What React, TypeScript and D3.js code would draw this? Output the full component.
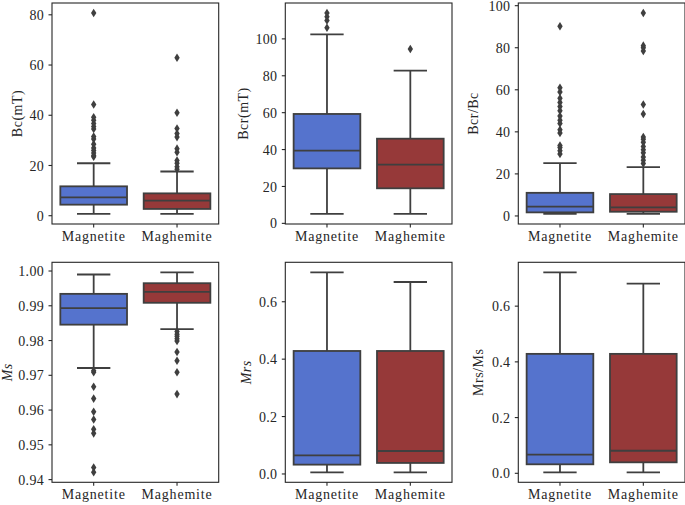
import React from "react";
import * as d3 from "d3";

// ---------- data ----------
const categories = ["Magnetite", "Maghemite"];
const boxColors = ["#5573cd", "#963939"];

// stats per category: [lowWhisker, q1, median, q3, highWhisker]
const bcStats = [
  [0.7, 4.4, 7.3, 11.7, 20.9],
  [0.7, 2.7, 6.0, 8.9, 17.6],
];
const bcOutliers = [
  [23.5, 24, 25, 26, 27, 28.5, 30.5, 31.5, 34.5, 35.5, 36.7, 38, 39.2, 44.3, 80.7],
  [18.5, 19.5, 20.9, 22, 25.3, 26.7, 31.3, 32.7, 34.7, 41, 62.9],
];
const bcrStats = [
  [5.1, 29.8, 39.4, 59.3, 102.4],
  [5.1, 19.0, 31.8, 45.9, 82.8],
];
const bcrOutliers = [
  [106, 110, 112, 114],
  [94.5],
];
const ratioStats = [
  [0.95, 1.7, 4.4, 11.0, 25.1],
  [1.0, 2.0, 4.1, 10.4, 23.2],
];
const ratioOutliers = [
  [29.5, 31, 32.5, 33.5, 39.5, 41, 44, 45.5, 47.5, 50, 52, 54, 56, 59, 61, 90.2],
  [25, 26.5, 28, 30, 31.5, 33, 35, 36.5, 37.5, 48.5, 53, 78.5, 80, 81, 96.5],
];
const msStats = [
  [0.9721, 0.98457, 0.98934, 0.99343, 0.999],
  [0.98326, 0.99086, 0.994, 0.99649, 0.99963],
];
const msOutliers = [
  [0.9709, 0.9713, 0.9667, 0.9633, 0.9595, 0.9573, 0.9545, 0.9533, 0.9435, 0.9421],
  [0.98257, 0.9818, 0.9812, 0.9805, 0.9799, 0.9767, 0.9742, 0.9709, 0.9646],
];
const mrsStats = [
  [0.0058, 0.0325, 0.065, 0.4285, 0.7026],
  [0.0058, 0.0384, 0.08, 0.4285, 0.6688],
];
const mrsOutliers: number[][] = [[], []];
const mrsMsStats = [
  [0.0036, 0.0323, 0.0667, 0.4287, 0.7215],
  [0.0036, 0.0394, 0.081, 0.4287, 0.681],
];
const mrsMsOutliers: number[][] = [[], []];

const ticksBc = [0, 20, 40, 60, 80];
const ticksBcr = [0, 20, 40, 60, 80, 100];
const ticksRatio = [0, 20, 40, 60, 80, 100];
const ticksMs = [0.94, 0.95, 0.96, 0.97, 0.98, 0.99, 1.0];
const ticksMrs = [0.0, 0.2, 0.4, 0.6];
const ticksMrsMs = [0.0, 0.2, 0.4, 0.6];

// ---------- layout ----------
const colX = [52, 285.3, 518.3];
const rowY = [3, 262.3];
const panelW = 166.7;
const rowH = [221, 220];
const FONT = "Liberation Serif, DejaVu Serif, serif";
const LINE = "#3f3f3f";
const SPINE = "#262626";

const panels = [
  { label: "Bc(mT)", italic: false, stats: bcStats, outliers: bcOutliers, ticks: ticksBc, fmt: "d", col: 0, row: 0, labelOff: 35 },
  { label: "Bcr(mT)", italic: false, stats: bcrStats, outliers: bcrOutliers, ticks: ticksBcr, fmt: "d", col: 1, row: 0, labelOff: 42 },
  { label: "Bcr/Bc", italic: false, stats: ratioStats, outliers: ratioOutliers, ticks: ticksRatio, fmt: "d", col: 2, row: 0, labelOff: 45 },
  { label: "Ms", italic: true, stats: msStats, outliers: msOutliers, ticks: ticksMs, fmt: ".2f", col: 0, row: 1, labelOff: 45 },
  { label: "Mrs", italic: true, stats: mrsStats, outliers: mrsOutliers, ticks: ticksMrs, fmt: ".1f", col: 1, row: 1, labelOff: 39 },
  { label: "Mrs/Ms", italic: false, stats: mrsMsStats, outliers: mrsMsOutliers, ticks: ticksMrsMs, fmt: ".1f", col: 2, row: 1, labelOff: 40 },
];

const textStyle = { fontFamily: FONT, fontSize: "14px" } as React.CSSProperties;

function Panel({ p }: { p: (typeof panels)[number] }) {
  const x0 = colX[p.col];
  const y0 = rowY[p.row];
  const h = rowH[p.row];
  const all: number[] = [];
  p.stats.forEach((s, i) => {
    all.push(s[0], s[4]);
    p.outliers[i].forEach((v) => all.push(v));
  });
  const lo = d3.min(all)!;
  const hi = d3.max(all)!;
  const m = (hi - lo) * 0.05;
  const y = d3.scaleLinear().domain([lo - m, hi + m]).range([y0 + h, y0]);
  const x = d3.scaleBand().domain(categories).range([x0, x0 + panelW]).paddingInner(0.2).paddingOuter(0.1);
  const bw = x.bandwidth();
  const f = d3.format(p.fmt);
  const diamond = (cx: number, cy: number) =>
    `M${cx},${cy - 4.3}L${cx + 2.7},${cy}L${cx},${cy + 4.3}L${cx - 2.7},${cy}Z`;
  return (
    <g>
      {categories.map((c, i) => {
        const s = p.stats[i];
        const cx = x(c)! + bw / 2;
        const left = x(c)!;
        const cap = bw / 4;
        return (
          <g key={c}>
            <line x1={cx} x2={cx} y1={y(s[0])} y2={y(s[1])} stroke={LINE} strokeWidth={1.8} />
            <line x1={cx} x2={cx} y1={y(s[3])} y2={y(s[4])} stroke={LINE} strokeWidth={1.8} />
            <line x1={cx - cap} x2={cx + cap} y1={y(s[0])} y2={y(s[0])} stroke={LINE} strokeWidth={1.8} />
            <line x1={cx - cap} x2={cx + cap} y1={y(s[4])} y2={y(s[4])} stroke={LINE} strokeWidth={1.8} />
            <rect x={left} y={y(s[3])} width={bw} height={y(s[1]) - y(s[3])} fill={boxColors[i]} stroke={LINE} strokeWidth={1.8} />
            <line x1={left} x2={left + bw} y1={y(s[2])} y2={y(s[2])} stroke={LINE} strokeWidth={1.8} />
            {p.outliers[i].map((v, k) => (
              <path key={k} d={diamond(cx, y(v))} fill={LINE} />
            ))}
          </g>
        );
      })}
      <rect x={x0} y={y0} width={panelW} height={h} fill="none" stroke={SPINE} strokeWidth={1.1} />
      {p.ticks.map((t) => (
        <g key={t}>
          <line x1={x0 - 3.5} x2={x0} y1={y(t)} y2={y(t)} stroke={SPINE} strokeWidth={1.1} />
          <text x={x0 - 8} y={y(t)} dy="0.36em" textAnchor="end" fill={SPINE} style={{ ...textStyle, letterSpacing: "0.3px" }}>
            {f(t)}
          </text>
        </g>
      ))}
      {categories.map((c) => {
        const cx = x(c)! + bw / 2;
        return (
          <g key={c}>
            <line x1={cx} x2={cx} y1={y0 + h} y2={y0 + h + 3.5} stroke={SPINE} strokeWidth={1.1} />
            <text x={cx} y={y0 + h + 16.5} textAnchor="middle" fill={SPINE} style={{ ...textStyle, letterSpacing: "0.8px" }}>
              {c}
            </text>
          </g>
        );
      })}
      <text
        transform={`translate(${x0 - p.labelOff},${y0 + h / 2}) rotate(-90)`}
        textAnchor="middle"
        dy="0.35em"
        fill={SPINE}
        style={{ ...textStyle, fontStyle: p.italic ? "italic" : "normal", letterSpacing: "0.5px" }}
      >
        {p.label}
      </text>
    </g>
  );
}

export default function App() {
  return (
    <svg width={685} height={505} style={{ position: "absolute", left: 0, top: 0, background: "#fff" }}>
      <rect x={0} y={0} width={685} height={505} fill="#fff" />
      {panels.map((p, i) => (
        <Panel key={i} p={p} />
      ))}
    </svg>
  );
}
